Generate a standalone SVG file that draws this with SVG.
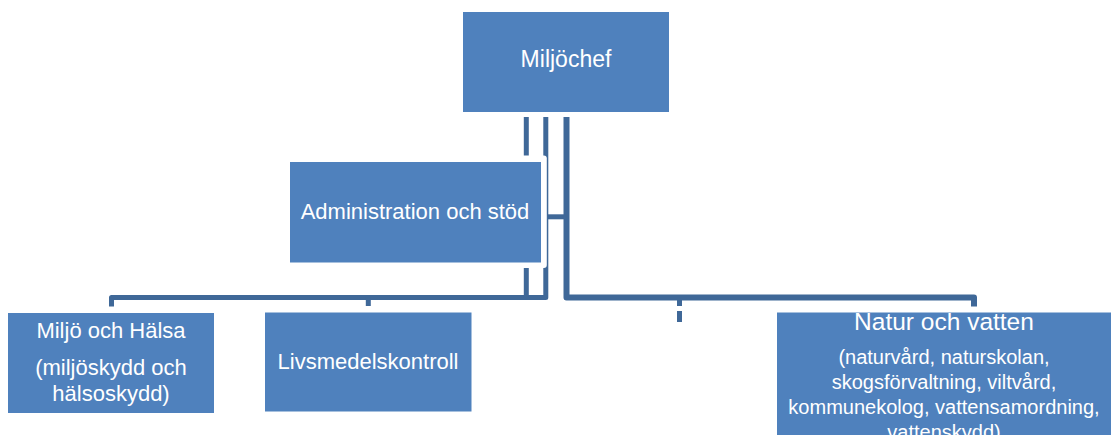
<svg xmlns="http://www.w3.org/2000/svg" width="1112" height="435" viewBox="0 0 1112 435">
<style>
.box{fill:#4F81BD}
.conn{fill:none;stroke:#3F6898;stroke-width:5;stroke-linejoin:round;stroke-linecap:butt}
text{font-family:"Liberation Sans",Arial,sans-serif;fill:#FFFFFF;text-anchor:middle}
.t22{font-size:22px}
.t20{font-size:20px}
</style>
<rect width="1112" height="435" fill="#FFFFFF"/>
<g id="connectors">
<path class="conn" d="M111.5,306.5 V297.5 H545.8 V117"/>
<path class="conn" d="M526.3,117 V297.5"/>
<path class="conn" d="M368.3,297.5 V306"/>
<path class="conn" style="stroke-width:6" d="M566.5,117 V297.5 H974 V306.5"/>
<path class="conn" d="M545.8,216.8 H566.5"/>
<path class="conn" d="M679.5,297.5 V306 M679.5,311 V322"/>
</g>
<g id="miljochef">
<rect class="box" x="463" y="12" width="206" height="100"/>
<text class="t22" x="566" y="67" style="font-size:23px">Miljöchef</text>
</g>
<g id="admin">
<rect x="285" y="155.5" width="261.8" height="112.5" rx="3" fill="#FFFFFF"/>
<rect class="box" x="290" y="162" width="251" height="100.5"/>
<text class="t22" x="415" y="218.5">Administration och stöd</text>
</g>
<g id="miljo-halsa">
<rect class="box" x="8" y="313" width="206" height="100"/>
<text class="t22" x="111" y="337.5">Miljö och Hälsa</text>
<text class="t22" x="111" y="374.5">(miljöskydd och</text>
<text class="t22" x="111" y="400.5">hälsoskydd)</text>
</g>
<g id="livsmedel">
<rect class="box" x="265" y="312.5" width="206.5" height="99"/>
<text class="t22" x="368" y="368.5">Livsmedelskontroll</text>
</g>
<g id="natur-vatten">
<rect class="box" x="777" y="312.5" width="334" height="130"/>
<text x="944" y="329.5" style="font-size:24.5px">Natur och vatten</text>
<text class="t20" x="944" y="363.5">(naturvård, naturskolan,</text>
<text class="t20" x="944" y="388.5">skogsförvaltning, viltvård,</text>
<text class="t20" x="944" y="413.5">kommunekolog, vattensamordning,</text>
<text class="t20" x="944" y="438.5">vattenskydd)</text>
</g>
</svg>
